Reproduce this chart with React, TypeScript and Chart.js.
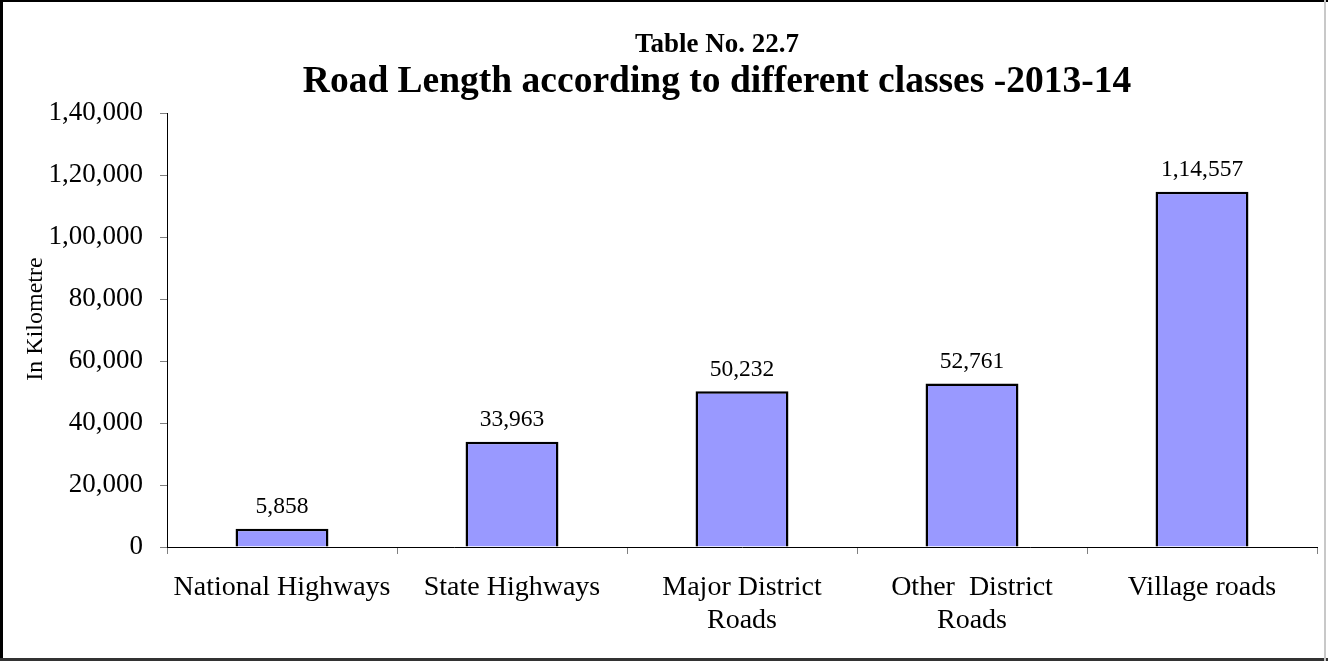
import React, { useEffect, useRef } from "react";
import { Chart, registerables } from "chart.js";

Chart.register(...registerables);

// ---- data ----
const categories: string[][] = [
  ["National Highways"],
  ["State Highways"],
  ["Major District", "Roads"],
  ["Other  District", "Roads"],
  ["Village roads"],
];
const roadLengthKm: number[] = [5858, 33963, 50232, 52761, 114557];
const titleLine1 = "Table No. 22.7";
const titleLine2 = "Road Length according to different classes -2013-14";
const yAxisTitle = "In Kilometre";
const yMin = 0;
const yMax = 140000;
const yStep = 20000;

const SERIF = '"Liberation Serif", "Times New Roman", Times, serif';

function formatIndian(n: number): string {
  const s = Math.round(n).toString();
  if (s.length <= 3) return s;
  const last3 = s.slice(-3);
  let rest = s.slice(0, -3);
  const parts: string[] = [];
  while (rest.length > 2) {
    parts.unshift(rest.slice(-2));
    rest = rest.slice(0, -2);
  }
  if (rest) parts.unshift(rest);
  return parts.join(",") + "," + last3;
}

const framePlugin = {
  id: "frameAndTexts",
  afterDraw(chart: any) {
    const ctx = chart.ctx as CanvasRenderingContext2D;
    const W = chart.width;
    const H = chart.height;
    ctx.save();
    // titles
    ctx.fillStyle = "#000";
    ctx.textAlign = "center";
    ctx.textBaseline = "alphabetic";
    ctx.font = `bold 27px ${SERIF}`;
    ctx.fillText(titleLine1, 717, 51.7);
    ctx.font = `bold 37.5px ${SERIF}`;
    ctx.fillText(titleLine2, 717, 91.6);
    // y axis title
    ctx.save();
    ctx.translate(42, 319);
    ctx.rotate(-Math.PI / 2);
    ctx.font = `24px ${SERIF}`;
    ctx.textAlign = "center";
    ctx.textBaseline = "alphabetic";
    ctx.fillText(yAxisTitle, 0, 0);
    ctx.restore();
    // frame
    ctx.fillStyle = "#000";
    ctx.fillRect(0, 0, W, 2);
    ctx.fillRect(0, 0, 3, H);
    ctx.fillStyle = "#333";
    ctx.fillRect(0, H - 3, W, 3);
    ctx.fillStyle = "#c8c8c8";
    ctx.fillRect(W - 4, 0, 2, H);
    ctx.restore();
  },
};

const valueLabelPlugin = {
  id: "valueLabels",
  afterDatasetsDraw(chart: any) {
    const ctx = chart.ctx as CanvasRenderingContext2D;
    const meta = chart.getDatasetMeta(0);
    const data = chart.data.datasets[0].data as number[];
    ctx.save();
    ctx.fillStyle = "#000";
    ctx.font = `23.5px ${SERIF}`;
    ctx.textAlign = "center";
    ctx.textBaseline = "alphabetic";
    meta.data.forEach((bar: any, i: number) => {
      ctx.fillText(formatIndian(data[i]), bar.x, bar.y - 15.5);
    });
    ctx.restore();
  },
};

export default function App() {
  const canvasRef = useRef<HTMLCanvasElement | null>(null);

  useEffect(() => {
    document.body.style.margin = "0";
    document.body.style.overflow = "hidden";
    const canvas = canvasRef.current;
    if (!canvas) return;
    const chart = new Chart(canvas, {
      type: "bar",
      data: {
        labels: categories,
        datasets: [
          {
            data: roadLengthKm,
            backgroundColor: "#9999FF",
            borderColor: "#000",
            borderWidth: 2.5,
            categoryPercentage: 1,
            barPercentage: 0.404,
          },
        ],
      },
      options: {
        responsive: false,
        animation: false,
        devicePixelRatio: 1,
        layout: { padding: { left: 10, right: 11, top: 113, bottom: 23 } },
        plugins: {
          legend: { display: false },
          tooltip: { enabled: false },
          title: { display: false },
        },
        scales: {
          x: {
            grid: {
              display: true,
              drawOnChartArea: false,
              drawTicks: true,
              tickLength: 7,
              color: "#808080",
              offset: true,
            },
            border: { display: true, color: "#000", width: 1 },
            ticks: {
              color: "#000",
              font: { family: SERIF, size: 28, lineHeight: 1.19 },
              padding: 17,
              maxRotation: 0,
              minRotation: 0,
              autoSkip: false,
            },
            afterFit: (scale: any) => {
              scale.height = 91;
            },
          },
          y: {
            min: yMin,
            max: yMax,
            ticks: {
              stepSize: yStep,
              callback: (v: any) => formatIndian(Number(v)),
              color: "#000",
              font: { family: SERIF, size: 27 },
              padding: 17,
            },
            grid: {
              drawOnChartArea: false,
              drawTicks: true,
              tickLength: 7,
              color: "#808080",
            },
            border: { display: true, color: "#000", width: 1 },
            afterFit: (scale: any) => {
              scale.width = 157;
            },
          },
        },
      },
      plugins: [valueLabelPlugin, framePlugin],
    });
    return () => chart.destroy();
  }, []);

  return (
    <div style={{ width: 1328, height: 661 }}>
      <canvas ref={canvasRef} width={1328} height={661} style={{ display: "block" }} />
    </div>
  );
}
